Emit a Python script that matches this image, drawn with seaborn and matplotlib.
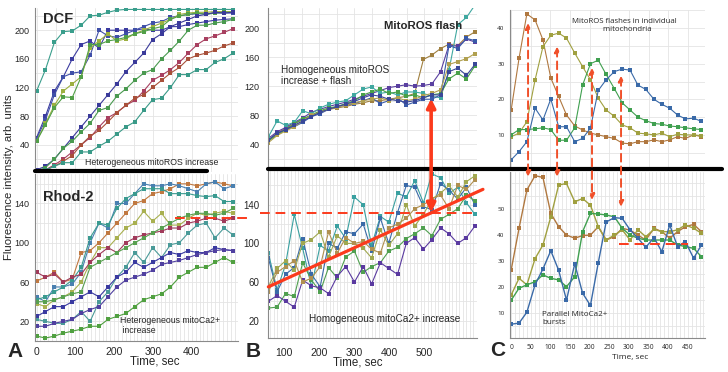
import numpy as np
import pandas as pd
import matplotlib
matplotlib.use("Agg")
import matplotlib.pyplot as plt
import seaborn as sns
from matplotlib.patches import ConnectionPatch
from matplotlib.lines import Line2D
from matplotlib.ticker import MultipleLocator, FixedLocator

# ---------------- data ----------------
TIME_A = [0, 23, 46, 69, 92, 115, 138, 161, 184, 207, 230, 253, 276, 299, 322,
          345, 368, 391, 414, 437, 460, 483, 506]

DCF = {
    "d1": [115, 145, 183, 198, 199, 207, 220, 221, 225, 228, 229, 229, 229, 229, 229, 229, 229, 229, 229, 229, 229, 229, 229],
    "d2": [50, 80, 115, 135, 160, 180, 185, 175, 200, 200, 200, 200, 202, 200, 200, 205, 205, 208, 210, 212, 214, 215, 216],
    "d3": [48, 75, 110, 135, 140, 142, 165, 200, 192, 190, 195, 200, 205, 210, 212, 218, 220, 222, 223, 223, 224, 224, 224],
    "d4": [45, 70, 95, 115, 125, 135, 175, 185, 195, 185, 188, 195, 200, 205, 210, 215, 222, 224, 225, 225, 226, 226, 226],
    "d5": [45, 68, 92, 107, 106, 135, 180, 180, 185, 187, 190, 195, 198, 202, 205, 215, 220, 222, 224, 222, 224, 225, 225],
    "d6": [5, 10, 20, 35, 50, 65, 80, 95, 110, 125, 142, 155, 168, 187, 195, 205, 210, 215, 220, 222, 225, 224, 225],
    "d7": [3, 8, 20, 35, 45, 58, 70, 88, 92, 108, 118, 130, 140, 145, 160, 172, 185, 200, 207, 207, 210, 212, 215],
    "d8": [2, 5, 12, 20, 30, 40, 50, 65, 78, 85, 95, 102, 115, 130, 137, 145, 155, 168, 180, 188, 192, 197, 202],
    "d9": [2, 5, 10, 17, 25, 40, 52, 60, 72, 85, 95, 105, 110, 120, 130, 140, 148, 160, 165, 168, 172, 178, 182],
    "d10": [2, 5, 10, 15, 15, 30, 30, 38, 45, 55, 65, 72, 88, 103, 105, 120, 138, 138, 145, 145, 155, 160, 168],
}
DCF_COLORS = ["#3a9e8c", "#3c3ca0", "#4050a8", "#9cb040", "#52a048",
              "#3a3a9a", "#4a9a50", "#a84060", "#a8503a", "#3a9a88"]

RHOD = {
    "r1": [61, 65, 70, 60, 63, 90, 92, 100, 110, 120, 130, 140, 143, 150, 152, 155, 160, 160, 158, 160, 162, 160, 158],
    "r2": [45, 40, 55, 55, 58, 70, 100, 120, 115, 140, 140, 150, 160, 158, 158, 160, 158, 155, 152, 160, 162, 155, 158],
    "r3": [42, 45, 50, 55, 62, 75, 105, 120, 118, 135, 145, 150, 155, 155, 155, 150, 150, 150, 148, 147, 148, 142, 142],
    "r4": [38, 35, 42, 45, 50, 60, 80, 95, 95, 105, 115, 120, 132, 122, 130, 118, 118, 125, 130, 128, 130, 132, 130],
    "r5": [70, 65, 68, 60, 65, 68, 80, 88, 95, 90, 100, 105, 108, 110, 112, 115, 115, 120, 122, 125, 125, 122, 125],
    "r6": [40, 40, 42, 45, 48, 50, 75, 80, 85, 90, 95, 100, 105, 110, 115, 120, 125, 128, 130, 130, 128, 130, 135],
    "r7": [22, 20, 18, 18, 22, 30, 20, 40, 50, 65, 75, 90, 80, 95, 85, 98, 100, 110, 118, 120, 105, 115, 108],
    "r8": [25, 30, 35, 35, 40, 45, 50, 45, 55, 65, 70, 80, 75, 80, 85, 90, 88, 92, 90, 90, 95, 93, 92],
    "r9": [15, 15, 18, 20, 22, 28, 32, 35, 45, 55, 62, 65, 68, 72, 78, 80, 82, 85, 88, 90, 92, 93, 92],
    "r10": [5, 3, 5, 8, 10, 12, 15, 15, 22, 25, 28, 35, 42, 45, 48, 55, 65, 70, 75, 75, 80, 85, 80],
}
RHOD_COLORS = ["#c07840", "#4a80b0", "#3a9a90", "#a8b050", "#a03a5a",
               "#58a050", "#4a9a98", "#3a3aa0", "#5040a0", "#50a040"]

TIME_B = [55, 80, 104, 129, 153, 178, 203, 227, 252, 276, 301, 326, 350, 375,
          399, 424, 449, 473, 498, 522, 547, 571, 596, 621, 645]

ROS_B = {
    "b1": [45, 55, 62, 68, 74, 80, 85, 88, 90, 92, 95, 97, 100, 100, 102, 104, 106, 110, 157, 163, 172, 178, 176, 188, 195],
    "b2": [48, 57, 63, 70, 76, 84, 88, 92, 95, 98, 102, 106, 110, 114, 118, 120, 122, 120, 121, 123, 140, 177, 175, 185, 181],
    "b3": [50, 72, 66, 70, 86, 82, 90, 95, 98, 100, 108, 116, 119, 110, 112, 108, 112, 112, 110, 106, 104, 142, 205, 215, 232],
    "b4": [44, 54, 60, 64, 70, 78, 82, 88, 92, 94, 96, 100, 104, 96, 100, 104, 94, 98, 102, 102, 108, 176, 172, 186, 183],
    "b5": [45, 52, 60, 68, 75, 80, 86, 90, 92, 96, 100, 108, 112, 116, 110, 112, 106, 108, 104, 108, 110, 130, 138, 130, 148],
    "b6": [42, 52, 58, 64, 72, 80, 84, 88, 91, 94, 97, 100, 102, 104, 100, 104, 100, 102, 107, 110, 115, 150, 154, 158, 165],
    "b7": [46, 55, 60, 66, 72, 78, 84, 88, 92, 95, 99, 104, 108, 106, 102, 100, 98, 100, 104, 108, 108, 140, 145, 135, 150],
}
ROS_B_COLORS = ["#a08040", "#5a40a0", "#40a8a0", "#3a5aa8", "#48a048", "#b0a050", "#3a4898"]

CA_B = {
    "c1": [90, 52, 78, 130, 95, 55, 98, 92, 118, 105, 148, 140, 98, 128, 122, 152, 148, 165, 142, 172, 168, 152, 158, 142, 130],
    "c2": [85, 50, 68, 75, 105, 68, 55, 100, 95, 112, 110, 120, 92, 126, 100, 132, 160, 158, 138, 135, 162, 155, 146, 158, 140],
    "c3": [55, 74, 82, 72, 100, 104, 112, 86, 108, 100, 100, 95, 85, 114, 98, 110, 140, 118, 130, 146, 152, 160, 148, 164, 170],
    "c4": [33, 34, 48, 45, 80, 62, 50, 75, 64, 86, 92, 70, 76, 80, 92, 96, 105, 110, 116, 108, 125, 130, 136, 150, 144],
    "c5": [40, 46, 40, 34, 62, 56, 54, 48, 66, 76, 60, 76, 58, 80, 74, 68, 100, 106, 94, 104, 116, 110, 100, 106, 118],
    "c6": [50, 70, 76, 82, 60, 64, 76, 112, 90, 106, 100, 102, 94, 90, 116, 120, 126, 136, 140, 146, 150, 136, 160, 156, 166],
}
CA_B_COLORS = ["#3aa0a0", "#3a6aa8", "#a0a850", "#50a050", "#5a3aa0", "#b09050"]

TIME_C = [0, 20, 40, 61, 81, 101, 121, 141, 162, 182, 202, 222, 242, 263, 283,
          303, 323, 343, 364, 384, 404, 424, 444, 465, 485]

ROS_C = {
    "m1": [17, 31.5, 44, 42.3, 36.7, 26, 20.8, 15.6, 12.5, 11.4, 10.5, 10, 9.5, 9, 7.7, 7.5, 8.1, 8.1, 8.6, 8.1, 8.6, 9.5, 9, 10, 9.5],
    "m2": [9.5, 10.5, 13.7, 25.5, 34.8, 38, 38.6, 37.2, 33, 29.2, 25.5, 20.3, 17, 15.2, 12.8, 12, 10.5, 10.3, 10, 10.5, 9.5, 10.2, 10, 10, 9.8],
    "m3": [10, 11.5, 11.5, 11.7, 12, 11.5, 8.5, 8.5, 12, 24, 30, 31, 27, 23, 19, 17, 15, 14, 13.2, 13, 12.5, 12.3, 12, 11.7, 11.5],
    "m4": [3, 5.3, 8.1, 17.5, 14.2, 20.1, 12.3, 12.3, 8.1, 9, 11.9, 22.5, 25.5, 27.8, 28.5, 28.2, 24, 22.8, 20, 18.6, 17.5, 15.6, 14.5, 14.7, 13.8],
}
CA_C = {
    "m1": [26.6, 42.6, 57.3, 62.8, 62.1, 48.3, 43.2, 40, 38.8, 39.8, 40, 43.2, 38.1, 39.4, 42.6, 41.9, 40, 38.1, 42.6, 41.3, 38.8, 41.3, 43.2, 44.1, 41.3],
    "m2": [17, 23.4, 20.9, 31, 36.2, 47, 59.2, 59.8, 52.8, 54, 51.5, 43.2, 38.1, 40, 42, 38.1, 42, 39.4, 42.2, 41.3, 41.3, 42, 43.9, 42.6, 40.7],
    "m3": [15, 19.6, 20.9, 22.1, 24.7, 23.4, 22.8, 20.2, 24, 41.3, 48.3, 48.1, 47.7, 47, 42.6, 40, 38.8, 38.1, 38.1, 38.1, 38.1, 36.2, 35.6, 34.9, 31.7],
    "m4": [5.8, 6.2, 10.4, 21, 27, 34, 26.5, 15, 29, 17.7, 13, 29.4, 45, 46.7, 46.4, 42, 38.8, 35.3, 39, 33.6, 43.9, 35.6, 37.5, 31.1, 36.2],
}
C_COLORS = ["#b07840", "#a0a040", "#40a050", "#3a6aa8"]

# annotation values
TREND_B_T, TREND_B_V = [55, 668], [55, 156]
LEVEL_A, LEVEL_A_T = 125, [356, 545]
LEVEL_B, LEVEL_B_T = 132, [31, 637]
LEVEL_C, LEVEL_C_T = 36.6, [275, 450]
FLASH_B_T, FLASH_B_TOP, FLASH_B_BOT = 520, 103, 132
FLASH_C_T = [43, 117, 206, 280]
FLASH_C_TOP = [41.4, 34.8, 28.8, 26.6]
FLASH_C_BOT = [62.4, 62.4, 53.5, 50.9]

# ---------------- style ----------------
W, H = 728, 372
sns.set_style("white")
plt.rcParams["font.family"] = ["Liberation Sans", "DejaVu Sans"]
RED = "#fb3a1c"

fig = plt.figure(figsize=(W / 100, H / 100), dpi=100)


def add_ax(l, t, r, b):
    return fig.add_axes([l / W, 1 - b / H, (r - l) / W, (b - t) / H])


def draw(ax, times, series, colors, xlim, ylim, lw=0.8, ms=2.2):
    rows = []
    for name, vals in series.items():
        for t, v in zip(times, vals):
            rows.append((name, t, v))
    df = pd.DataFrame(rows, columns=["series", "t", "v"])
    pal = dict(zip(series.keys(), colors))
    sns.lineplot(data=df, x="t", y="v", hue="series", palette=pal, marker="s",
                 markersize=ms, markeredgewidth=0, linewidth=lw, legend=False,
                 ax=ax, estimator=None, sort=False)
    ax.set_xlim(xlim)
    ax.set_ylim(ylim)
    ax.set_xlabel("")
    ax.set_ylabel("")
    ax.set_axisbelow(True)
    ax.grid(True, which="both", color="#e4e4e4", lw=0.6)
    for s in ["top", "right"]:
        ax.spines[s].set_visible(False)
    for s in ["left", "bottom"]:
        ax.spines[s].set_color("#8a8a8a")
        ax.spines[s].set_linewidth(0.8)
    ax.tick_params(which="major", length=2, width=0.6, color="#777777", pad=2)
    ax.tick_params(which="minor", length=1.5, width=0.5, color="#888888")


# Panel A
axAt = add_ax(35, 8, 238, 172)
draw(axAt, TIME_A, DCF, DCF_COLORS, (-4, 519), (2, 231))
axAt.yaxis.set_major_locator(FixedLocator([40, 80, 120, 160, 200]))
axAt.yaxis.set_minor_locator(MultipleLocator(20))
axAt.xaxis.set_major_locator(FixedLocator([0, 100, 200, 300, 400, 500]))
axAt.xaxis.set_minor_locator(MultipleLocator(50))
axAt.set_xticklabels([])
axAt.tick_params(axis="x", which="both", length=0)
axAt.tick_params(axis="y", labelsize=6.5)
axAt.spines["bottom"].set_visible(False)

axAb = add_ax(35, 174, 238, 341)
draw(axAb, TIME_A, RHOD, RHOD_COLORS, (-4, 519), (0, 170))
axAb.yaxis.set_major_locator(FixedLocator([20, 60, 100, 140]))
axAb.yaxis.set_minor_locator(MultipleLocator(20))
axAb.xaxis.set_major_locator(FixedLocator([0, 100, 200, 300, 400]))
axAb.xaxis.set_minor_locator(MultipleLocator(10))
axAb.tick_params(axis="y", labelsize=6.5)
axAb.tick_params(axis="x", labelsize=7.5)
axAb.set_xlabel("Time, sec", fontsize=8.3)
axAb.xaxis.set_label_coords((155 - 35) / 203, -0.085)

# Panel B
axBt = add_ax(268, 8, 477, 168)
draw(axBt, TIME_B, ROS_B, ROS_B_COLORS, (54, 651), (7, 228))
axBt.yaxis.set_major_locator(FixedLocator([40, 80, 120, 160, 200]))
axBt.yaxis.set_minor_locator(MultipleLocator(20))
axBt.xaxis.set_major_locator(FixedLocator([100, 200, 300, 400, 500, 600]))
axBt.xaxis.set_minor_locator(MultipleLocator(50))
axBt.set_xticklabels([])
axBt.tick_params(axis="x", which="both", length=0)
axBt.tick_params(axis="y", labelsize=6.5, pad=4)
axBt.spines["bottom"].set_visible(False)

axBb = add_ax(268, 171, 477, 338)
draw(axBb, TIME_B, CA_B, CA_B_COLORS, (54, 651), (2, 175))
axBb.yaxis.set_major_locator(FixedLocator([20, 60, 100, 140]))
axBb.yaxis.set_minor_locator(MultipleLocator(20))
axBb.xaxis.set_major_locator(FixedLocator([100, 200, 300, 400, 500]))
axBb.xaxis.set_minor_locator(MultipleLocator(10))
axBb.tick_params(axis="y", labelsize=7, pad=4)
axBb.tick_params(axis="x", labelsize=7.5, pad=5)
axBb.set_xlabel("Time, sec", fontsize=8.3)
axBb.xaxis.set_label_coords((358 - 268) / 209, -0.11)

# Panel C
axCt = add_ax(510, 10, 705, 168)
draw(axCt, TIME_C, ROS_C, C_COLORS, (-3, 494), (0.7, 45.1))
axCt.yaxis.set_major_locator(FixedLocator([10, 20, 30, 40]))
axCt.yaxis.set_minor_locator(MultipleLocator(5))
axCt.xaxis.set_major_locator(MultipleLocator(50))
axCt.set_xticklabels([])
axCt.tick_params(axis="x", which="both", length=0)
axCt.tick_params(axis="y", labelsize=4.5, pad=2)
axCt.spines["bottom"].set_visible(False)

axCb = add_ax(510, 172, 705, 338)
draw(axCb, TIME_C, CA_C, C_COLORS, (-3, 494), (0.5, 64.2), lw=1.0)
axCb.yaxis.set_major_locator(FixedLocator([10, 20, 30, 40, 50]))
axCb.yaxis.set_minor_locator(MultipleLocator(5))
axCb.xaxis.set_major_locator(MultipleLocator(50))
axCb.xaxis.set_minor_locator(MultipleLocator(10))
axCb.tick_params(axis="y", labelsize=4.5, pad=2)
axCb.tick_params(axis="x", labelsize=4.8, pad=2)
axCb.set_xlabel("Time, sec", fontsize=6, fontfamily="Open Sans")
axCb.xaxis.set_label_coords((630 - 510) / 195, -0.095)
for ax in (axCt, axCb):
    for lab in ax.get_xticklabels() + ax.get_yticklabels():
        lab.set_fontfamily("Open Sans")

# ---------------- black separators ----------------
fig.add_artist(Line2D([35 / W, 207 / W], [1 - 171.5 / H] * 2, color="black", lw=3,
                      transform=fig.transFigure))
fig.add_artist(Line2D([268 / W, 722 / W], [1 - 168.8 / H] * 2, color="black", lw=3,
                      transform=fig.transFigure))

# ---------------- red annotations ----------------
axBb.plot(TREND_B_T, TREND_B_V, color=RED, lw=2.3, clip_on=False, zorder=5)
axAb.plot(LEVEL_A_T, [LEVEL_A] * 2, color=RED, lw=1.4, ls=(0, (5, 3)), clip_on=False, zorder=5)
axBb.plot(LEVEL_B_T, [LEVEL_B] * 2, color=RED, lw=1.4, ls=(0, (5, 3)), clip_on=False, zorder=5)
axCb.plot(LEVEL_C_T, [LEVEL_C] * 2, color=RED, lw=1.4, ls=(0, (5, 3)), clip_on=False, zorder=5)

con = ConnectionPatch(xyA=(FLASH_B_T, FLASH_B_TOP), coordsA=axBt.transData,
                      xyB=(FLASH_B_T, FLASH_B_BOT), coordsB=axBb.transData,
                      arrowstyle="<|-|>", mutation_scale=13, lw=2.6, color=RED,
                      shrinkA=0, shrinkB=0, zorder=6)
fig.add_artist(con)
for t, vt, vb in zip(FLASH_C_T, FLASH_C_TOP, FLASH_C_BOT):
    c = ConnectionPatch(xyA=(t, vt), coordsA=axCt.transData,
                        xyB=(t, vb), coordsB=axCb.transData,
                        arrowstyle="<|-|>", mutation_scale=8, lw=1.4, color="#f0502a",
                        ls=(0, (4, 2.5)), shrinkA=0, shrinkB=0, zorder=6)
    fig.add_artist(c)

# ---------------- texts ----------------
axAt.text(0.04, 0.975, "DCF", transform=axAt.transAxes, fontsize=10.5,
          fontweight="bold", va="top", ha="left")
axAt.text(0.246, 0.055, "Heterogeneous mitoROS increase", transform=axAt.transAxes,
          fontsize=6.3, va="center", ha="left")
axAb.text(0.04, 0.905, "Rhod-2", transform=axAb.transAxes, fontsize=10.5,
          fontweight="bold", va="top", ha="left")
axAb.text(0.42, 0.15, "Heterogeneous mitoCa2+\n increase", transform=axAb.transAxes,
          fontsize=6.3, va="top", ha="left", linespacing=1.1)
axBt.text(0.555, 0.8875, "MitoROS flash", transform=axBt.transAxes, fontsize=8.2,
          fontweight="bold", va="center", ha="left")
axBt.text(0.062, 0.645, "Homogeneous mitoROS\nincrease + flash", transform=axBt.transAxes,
          fontsize=7.2, va="top", ha="left", linespacing=1.15)
axBb.text(0.196, 0.114, "Homogeneous mitoCa2+ increase", transform=axBb.transAxes,
          fontsize=7.2, va="center", ha="left")
axCt.text(0.585, 0.95, "MitoROS flashes in individual\n   mitochondria",
          transform=axCt.transAxes, fontsize=5.6, va="top", ha="center",
          fontfamily="Open Sans", linespacing=1.2)
axCb.text(0.164, 0.163, "Parallel MitoCa2+\nbursts", transform=axCb.transAxes,
          fontsize=5.8, va="top", ha="left", fontfamily="Open Sans", linespacing=1.2)

fig.text(7 / W, 1 - 357 / H, "A", fontsize=15, fontweight="bold", va="baseline")
fig.text(246 / W, 1 - 357 / H, "B", fontsize=15, fontweight="bold", va="baseline")
fig.text(490 / W, 1 - 356 / H, "C", fontsize=15, fontweight="bold", va="baseline")
fig.text(9 / W, 1 - 177 / H, "Fluorescence intensity, arb. units", rotation=90,
         ha="center", va="center", fontsize=8.2)

fig.savefig("out.png", dpi=100)
